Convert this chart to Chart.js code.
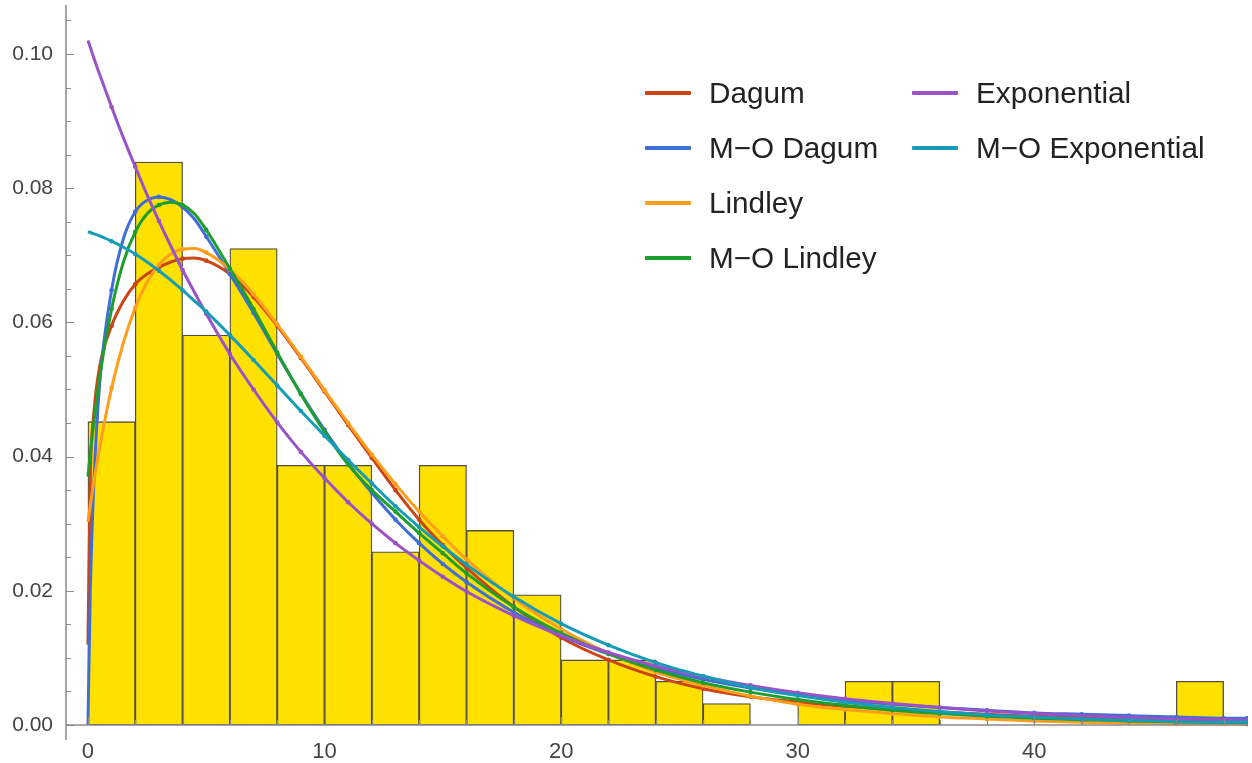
<!DOCTYPE html>
<html>
<head>
<meta charset="utf-8">
<script src="https://cdn.jsdelivr.net/npm/chart.js@4.4.1/dist/chart.umd.min.js"></script>
<style>
  html, body { margin: 0; padding: 0; background: #fff; }
  #wrap { position: relative; width: 1252px; height: 763px; }
  #legend { position: absolute; left: 0; top: 0; font-family: "Liberation Sans", Arial, sans-serif; font-size: 29.7px; color: #222; }
  .item { position: absolute; white-space: nowrap; height: 34px; line-height: 34px; }
  .sw { position: absolute; left: 0; top: 15px; width: 46px; height: 4px; border-radius: 1px; }
  .lbl { position: absolute; left: 64px; top: 0; }
</style>
</head>
<body>
<div id="wrap">
  <canvas id="myChart" width="1252" height="763"></canvas>
  <div id="legend"></div>
</div>
<script>
// histogram bins (width 2) and density
const binCenters = [1,3,5,7,9,11,13,15,17,19,21,23,25,27,29,31,33,35,37,39,41,43,45,47];
const binDensity = [0.0452,0.0839,0.0581,0.0710,0.0387,0.0387,0.0258,0.0387,0.0290,0.0194,0.0097,0.0097,
                    0.0065,0.0032,0,0.0032,0.0065,0.0065,0,0,0,0,0,0.0065];

// x positions where the fitted curves were read
const xs = [0,0.1,0.25,0.5,1,1.5,2,2.5,3,3.5,4,4.5,5,6,7,8,9,10,11,12,13,14,15,16,
            18,20,22,24,26,28,30,32,34,36,38,40,42,44,46,48,49];

const dagum = [0.0120,0.0370,0.0465,0.0535,0.0595,0.0632,0.0657,0.0672,0.0682,0.0690,0.0695,0.0696,0.0692,
               0.0672,0.0638,0.0595,0.0547,0.0497,0.0447,0.0398,0.0350,0.0306,0.0268,0.0234,
               0.0176,0.0130,0.0097,0.0072,0.0054,0.0042,0.0034,0.0028,0.0023,0.0019,0.0016,0.0013,0.0011,0.0010,0.0009,0.0008,0.0007];
const moDagum = [0.0000,0.0200,0.0360,0.0510,0.0648,0.0725,0.0765,0.0782,0.0787,0.0783,0.0772,0.0754,0.0728,
                 0.0672,0.0614,0.0553,0.0494,0.0440,0.0390,0.0346,0.0306,0.0271,0.0240,0.0213,
                 0.0168,0.0133,0.0106,0.0085,0.0068,0.0055,0.0045,0.0037,0.0031,0.0026,0.0022,0.0018,0.0016,0.0014,0.0012,0.0010,0.0010];
const lindley = [0.0303,0.0327,0.0362,0.0414,0.0502,0.0570,0.0622,0.0660,0.0686,0.0702,0.0709,0.0710,0.0704,
                 0.0679,0.0642,0.0597,0.0549,0.0499,0.0450,0.0403,0.0359,0.0318,0.0281,0.0247,
                 0.0189,0.0143,0.0107,0.0079,0.0059,0.0043,0.0031,0.0023,0.0017,0.0012,0.0009,0.0006,0.0004,0.0003,0.0002,0.0002,0.0001];
const moLindley = [0.0370,0.0405,0.0450,0.0520,0.0620,0.0690,0.0735,0.0762,0.0775,0.0779,0.0775,0.0762,0.0738,
                   0.0680,0.0620,0.0555,0.0493,0.0437,0.0388,0.0350,0.0318,0.0286,0.0256,0.0226,
                   0.0176,0.0137,0.0106,0.0082,0.0063,0.0049,0.0038,0.0029,0.0022,0.0017,0.0013,0.0010,0.0008,0.0006,0.0005,0.0004,0.0003];
const expo = [0.1020,0.1010,0.0994,0.0969,0.0921,0.0875,0.0832,0.0790,0.0751,0.0714,0.0678,0.0645,0.0613,
              0.0553,0.0500,0.0451,0.0407,0.0368,0.0332,0.0300,0.0271,0.0245,0.0221,0.0199,
              0.0163,0.0133,0.0108,0.0088,0.0072,0.0059,0.0048,0.0039,0.0032,0.0026,0.0021,0.0017,0.0014,0.0011,0.0009,0.0008,0.0007];
const moExpo = [0.0735,0.0734,0.0732,0.0729,0.0721,0.0712,0.0702,0.0690,0.0677,0.0663,0.0648,0.0632,0.0616,
                0.0581,0.0544,0.0506,0.0468,0.0431,0.0395,0.0360,0.0326,0.0295,0.0266,0.0239,
                0.0191,0.0151,0.0119,0.0093,0.0073,0.0056,0.0044,0.0034,0.0026,0.0020,0.0015,0.0012,0.0009,0.0007,0.0005,0.0004,0.0004];

const names  = ['Dagum','M\u2212O Dagum','Lindley','M\u2212O Lindley','Exponential','M\u2212O Exponential'];
const series = [dagum, moDagum, lindley, moLindley, expo, moExpo];
const colors = ['#cc4414','#3f6fd6','#ff9e1b','#1e9e2c','#9a52c8','#169cb6'];

const xTicks = [0,10,20,30,40];
const yTicks = [0,0.02,0.04,0.06,0.08,0.10];

const lineSets = series.map(function(vals, i){
  return {
    type: 'line',
    label: names[i],
    data: xs.map(function(x, j){ return {x: x, y: vals[j]}; }),
    borderColor: colors[i],
    backgroundColor: colors[i],
    borderWidth: 3,
    cubicInterpolationMode: 'monotone',
    pointRadius: function(ctx){ return (ctx.raw && Number.isInteger(ctx.raw.x) && ctx.raw.x > 0) ? 2.3 : 0; },
    pointBorderWidth: 0,
    pointBackgroundColor: colors[i],
    order: names.length - i
  };
});

const histSet = {
  type: 'bar',
  label: 'data',
  data: binCenters.map(function(x, j){ return {x: x, y: binDensity[j]}; }),
  backgroundColor: '#ffe100',
  borderColor: 'rgba(60,60,50,0.9)',
  borderWidth: 1.3,
  borderSkipped: false,
  barPercentage: 1,
  categoryPercentage: 1,
  order: 20
};

// axes in the Mathematica style: lines with ticks pointing inward
const axesPlugin = {
  id: 'axesPlugin',
  afterDraw: function(chart){
    const c = chart.ctx, xs_ = chart.scales.x, ys_ = chart.scales.y, a = chart.chartArea;
    const y0 = ys_.getPixelForValue(0);
    c.save();
    c.strokeStyle = '#8a8a8a';
    c.lineWidth = 1.5;
    c.beginPath();
    c.moveTo(a.left, a.top); c.lineTo(a.left, a.bottom);
    c.moveTo(a.left, y0); c.lineTo(a.right, y0);
    c.stroke();
    c.lineWidth = 1.2;
    c.beginPath();
    for (let v = 0; v <= 0.1051; v += 0.005) {
      const p = Math.round(ys_.getPixelForValue(v)) + 0.5;
      const major = Math.abs(Math.round(v / 0.02) * 0.02 - v) < 1e-6;
      c.moveTo(a.left, p); c.lineTo(a.left + (major ? 8 : 5), p);
    }
    for (let v = 0; v <= 48; v += 2) {
      const p = Math.round(xs_.getPixelForValue(v)) + 0.5;
      const major = v % 10 === 0;
      c.moveTo(p, y0); c.lineTo(p, y0 - (major ? 8 : 5));
    }
    c.stroke();
    c.restore();
  }
};

function noPad(s){ s.paddingTop = 0; s.paddingBottom = 0; s.paddingLeft = 0; s.paddingRight = 0; }

const config = {
  type: 'bar',
  data: { datasets: lineSets.concat([histSet]) },
  options: {
    responsive: false,
    animation: false,
    layout: { padding: { top: 5, right: 0, left: 0, bottom: 0 } },
    plugins: { legend: { display: false }, tooltip: { enabled: false } },
    scales: {
      x: {
        type: 'linear',
        offset: false,
        min: -0.927,
        max: 49.03,
        grid: { display: false, drawTicks: false },
        border: { display: false },
        afterBuildTicks: function(s){ s.ticks = xTicks.map(function(v){ return {value: v}; }); },
        afterFit: function(s){ s.height = 23; noPad(s); },
        ticks: { padding: -1, maxRotation: 0, color: '#444',
                 font: { family: '"Liberation Sans", Arial, sans-serif', size: 22 },
                 callback: function(v){ return String(v); } }
      },
      y: {
        min: -0.002235,
        max: 0.1073,
        grid: { display: false, drawTicks: false },
        border: { display: false },
        afterBuildTicks: function(s){ s.ticks = yTicks.map(function(v){ return {value: v}; }); },
        afterFit: function(s){ s.width = 66; noPad(s); },
        ticks: { padding: 13, color: '#444',
                 font: { family: '"Liberation Sans", Arial, sans-serif', size: 21 },
                 callback: function(v){ return Number(v).toFixed(2); } }
      }
    }
  },
  plugins: [axesPlugin]
};

const myChart = new Chart(document.getElementById('myChart'), config);

// legend, two columns inside the plot
const legend = document.getElementById('legend');
names.forEach(function(n, i){
  const col = i < 4 ? 0 : 1, row = i < 4 ? i : i - 4;
  const d = document.createElement('div');
  d.className = 'item';
  d.style.left = (col ? 912 : 645) + 'px';
  d.style.top = (76 + row * 55) + 'px';
  d.innerHTML = '<span class="sw" style="background:' + colors[i] + '"></span><span class="lbl">' + n + '</span>';
  legend.appendChild(d);
});
</script>
</body>
</html>
